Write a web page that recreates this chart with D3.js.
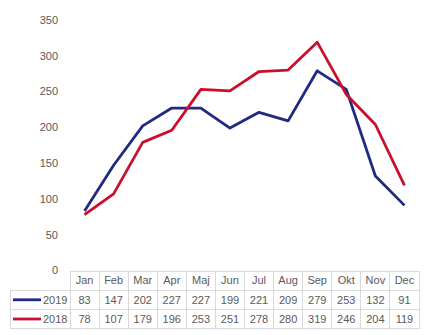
<!DOCTYPE html>
<html><head><meta charset="utf-8">
<script src="https://cdn.jsdelivr.net/npm/d3@7"></script>
<style>body{margin:0;background:#fff}svg{display:block}</style>
</head><body>
<svg id="c" width="436" height="335"></svg>
<script>
const months = ["Jan","Feb","Mar","Apr","Maj","Jun","Jul","Aug","Sep","Okt","Nov","Dec"];
const series2019 = [83,147,202,227,227,199,221,209,279,253,132,91];
const series2018 = [78,107,179,196,253,251,278,280,319,246,204,119];
const seriesNames = ["2019","2018"];
const seriesColors = ["#1f2a80","#c8102e"];
const yTicks = [0,50,100,150,200,250,300,350];

(function(){
const svg = d3.select("#c");
const font = "'Liberation Sans', Arial, sans-serif";
const pl = 70, pr = 419, pt = 20, pb = 270.5;
const x = d3.scaleBand().domain(months).range([pl, pr]);
const y = d3.scaleLinear().domain([0,350]).range([pb, pt]);

svg.append("g").selectAll("text").data(yTicks).join("text")
  .attr("x", 58).attr("y", d => y(d)).attr("dy","0.35em")
  .attr("text-anchor","end").attr("font-family",font).attr("font-size",11)
  .attr("fill","#595959").text(d => d);

const data = [series2019, series2018];
const line = d3.line().x((d,i) => x(months[i]) + x.bandwidth()/2).y(d => y(d));
data.forEach((s,k) => {
  svg.append("path").datum(s).attr("d", line).attr("fill","none")
    .attr("stroke", seriesColors[k]).attr("stroke-width", 2.8)
    .attr("stroke-linejoin","round");
});

const rowH = 19.2;
const tTop = 271, r1 = tTop + rowH, r2 = r1 + rowH, r3 = r2 + rowH;
const g = svg.append("g").attr("stroke","#d9d9d9").attr("stroke-width",1).attr("shape-rendering","crispEdges");
g.append("line").attr("x1",pl).attr("x2",pr).attr("y1",tTop).attr("y2",tTop);
[r1,r2,r3].forEach(yy => g.append("line").attr("x1",10).attr("x2",pr).attr("y1",yy).attr("y2",yy));
months.forEach(m => g.append("line").attr("x1",x(m)).attr("x2",x(m)).attr("y1",tTop).attr("y2",r3));
g.append("line").attr("x1",pr).attr("x2",pr).attr("y1",tTop).attr("y2",r3);
g.append("line").attr("x1",10).attr("x2",10).attr("y1",r1).attr("y2",r3);

const tx = svg.append("g").attr("font-family",font).attr("font-size",11).attr("fill","#595959").attr("text-anchor","middle");
tx.selectAll(".h").data(months).join("text").attr("class","h")
  .attr("x", d => x(d) + x.bandwidth()/2).attr("y", tTop + rowH/2).attr("dy","0.35em").text(d => d);
data.forEach((s,k) => {
  const yy = r1 + rowH*k + rowH/2;
  tx.append("g").selectAll("text").data(s).join("text")
    .attr("x",(d,i) => x(months[i]) + x.bandwidth()/2).attr("y", yy).attr("dy","0.35em").text(d => d);
  svg.append("line").attr("x1",13).attr("x2",41).attr("y1",yy).attr("y2",yy)
    .attr("stroke",seriesColors[k]).attr("stroke-width",2.8);
  svg.append("text").attr("x",43).attr("y",yy).attr("dy","0.35em")
    .attr("font-family",font).attr("font-size",11).attr("fill","#595959").text(seriesNames[k]);
});
})();
</script>
</body></html>
